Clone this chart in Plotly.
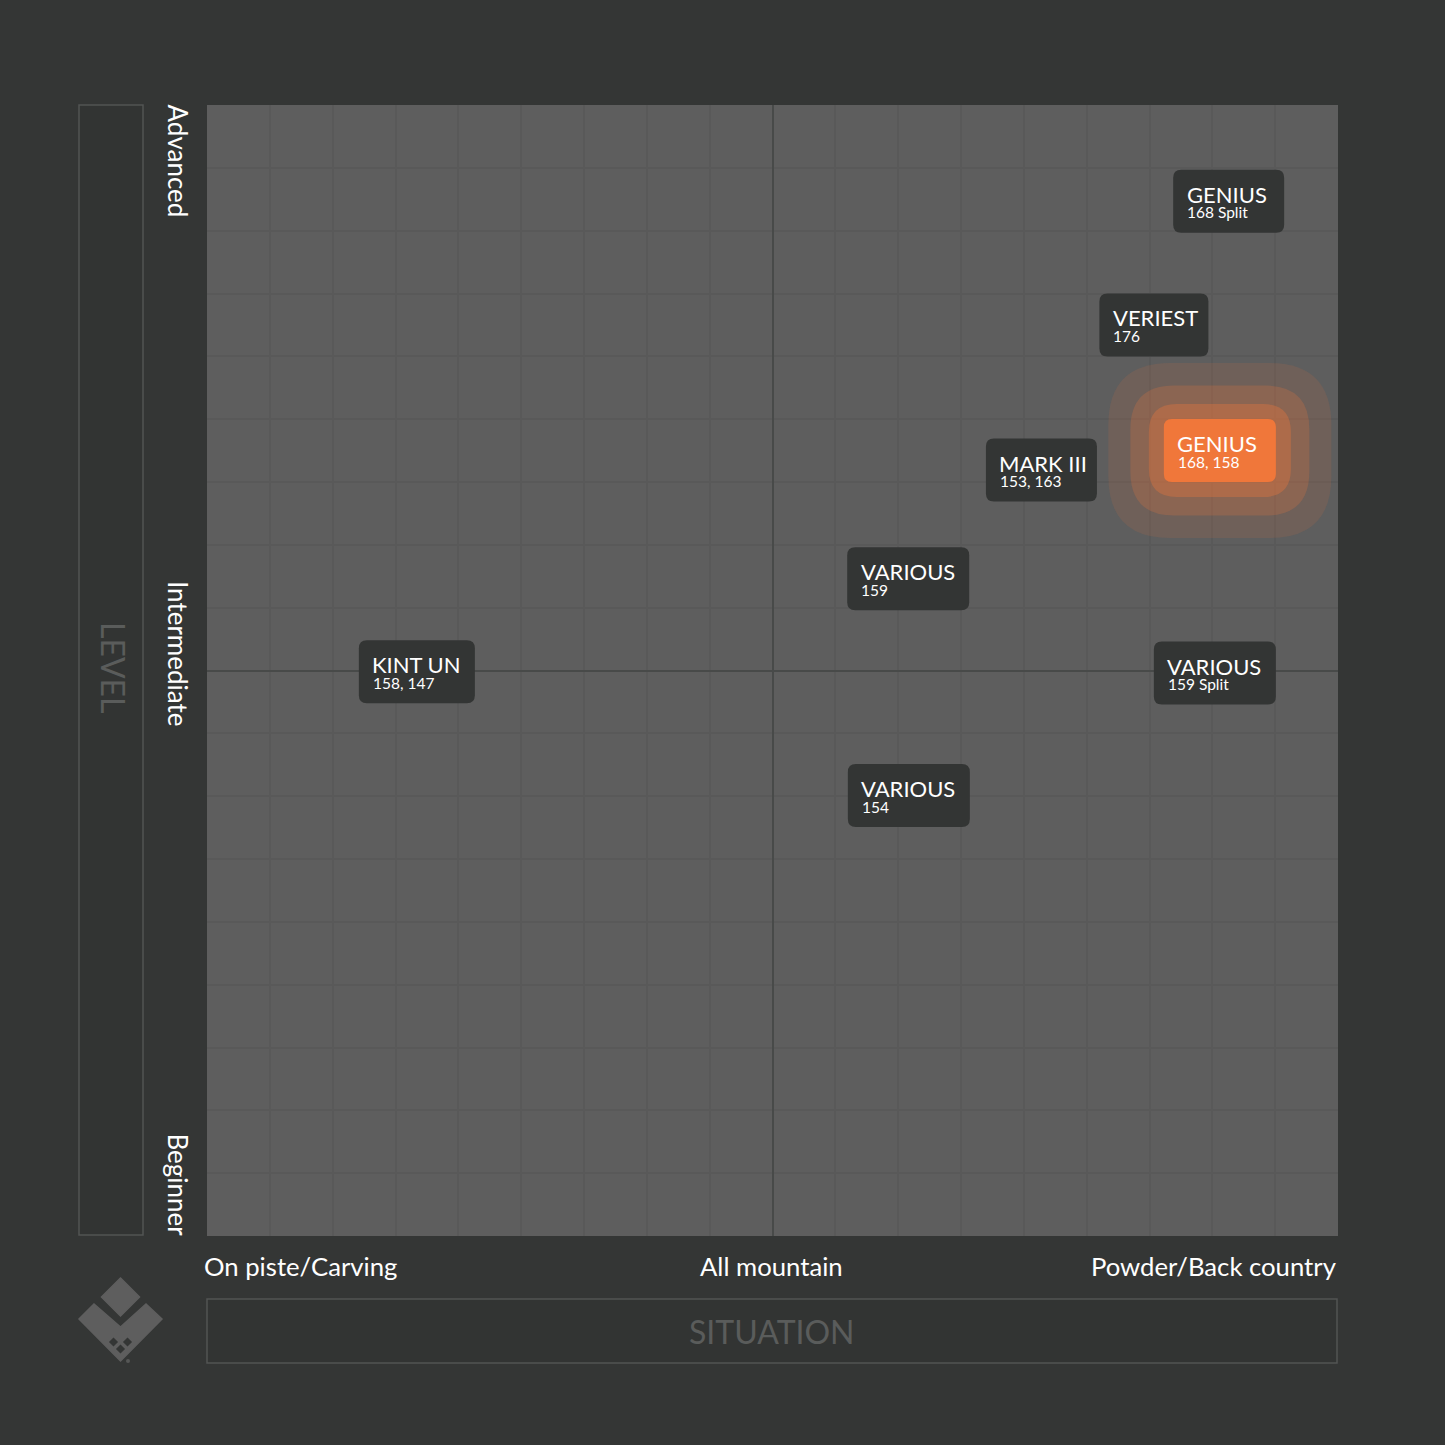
import plotly.graph_objects as go

# quadrant values, both axes run from -9 to 9
names = ["GENIUS", "VERIEST", "GENIUS", "MARK III", "VARIOUS", "KINT UN", "VARIOUS", "VARIOUS"]
sizes = ["168 Split", "176", "168, 158", "153, 163", "159", "158, 147", "159 Split", "154"]
situation = [7.26, 6.07, 7.12, 4.28, 2.16, -5.66, 7.04, 2.17]
level = [7.47, 5.50, 3.50, 3.19, 1.46, -0.02, -0.04, -1.99]
highlighted = "168, 158"

x_labels = ["On piste/Carving", "All mountain", "Powder/Back country"]
y_labels = ["Advanced", "Intermediate", "Beginner"]

# label box widths in pixels, they depend on the text
box_widths = {"168 Split": 111, "176": 109, "168, 158": 112, "153, 163": 111,
              "159": 122, "158, 147": 116, "159 Split": 122, "154": 122}
BOX_HEIGHT = 63

BG = "#343635"
PANEL = "#5e5e5e"
DARK_BOX = "#333534"
ORANGE = "#f0773a"
FONT = "Lato"

PLOT_L, PLOT_T, PLOT_SIZE = 207, 105, 1131


def px_x(x):
    return (x - PLOT_L) / PLOT_SIZE


def px_y(y):
    return 1 - (y - PLOT_T) / PLOT_SIZE


def rounded_path(w, h, r):
    # rounded rectangle around (0, 0), in pixels
    a, b = w / 2, h / 2
    return (
        f"M {-a + r} {-b} L {a - r} {-b} Q {a} {-b} {a} {-b + r} "
        f"L {a} {b - r} Q {a} {b} {a - r} {b} L {-a + r} {b} "
        f"Q {-a} {b} {-a} {b - r} L {-a} {-b + r} Q {-a} {-b} {-a + r} {-b} Z"
    )


def anchored_box(x, y, w, h, r, color, opacity=1):
    return dict(
        type="path",
        xref="x",
        yref="y",
        xsizemode="pixel",
        ysizemode="pixel",
        xanchor=x,
        yanchor=y,
        path=rounded_path(w, h, r),
        fillcolor=color,
        opacity=opacity,
        line=dict(width=0),
        layer="between",
    )


def paper_path(points, color):
    path = "M " + " L ".join(f"{px_x(x):.5f} {px_y(y):.5f}" for x, y in points) + " Z"
    return dict(type="path", xref="paper", yref="paper", path=path,
                fillcolor=color, line=dict(width=1.5, color=color), layer="above")


def frame(x0, y0, x1, y1):
    return dict(type="rect", xref="paper", yref="paper",
                x0=px_x(x0), x1=px_x(x1), y0=px_y(y0), y1=px_y(y1),
                fillcolor="#323433", line=dict(color="#525453", width=1.5), layer="below")


def diamond(cx, cy, d, color):
    return paper_path([(cx, cy - d), (cx + d, cy), (cx, cy + d), (cx - d, cy)], color)


shapes = [frame(79, 105, 143, 1235), frame(207, 1299, 1337, 1363)]

# glow rings first, so the label boxes end up on top
for i, size in enumerate(sizes):
    if size == highlighted:
        shapes.append(anchored_box(situation[i], level[i], 223, 175, 62, ORANGE, 0.12))
        shapes.append(anchored_box(situation[i], level[i], 179, 130, 44, ORANGE, 0.22))
        shapes.append(anchored_box(situation[i], level[i], 142, 93, 28, ORANGE, 0.34))

annotations = []
for name, size, x, y in zip(names, sizes, situation, level):
    w = box_widths[size]
    shapes.append(anchored_box(x, y, w, BOX_HEIGHT, 8, ORANGE if size == highlighted else DARK_BOX))
    annotations.append(dict(x=x, y=y, xref="x", yref="y", text=name, showarrow=False,
                            xanchor="left", yanchor="middle", xshift=-w / 2 + 11.5, yshift=7,
                            font=dict(family=FONT, size=22, color="white")))
    annotations.append(dict(x=x, y=y, xref="x", yref="y", text=size, showarrow=False,
                            xanchor="left", yanchor="middle", xshift=-w / 2 + 12, yshift=-11,
                            font=dict(family=FONT, size=15.5, color="white")))

# logo
LOGO = "#5e5e5e"
shapes.append(diamond(120.5, 1297, 19, LOGO))
shapes.append(paper_path([(79, 1319), (94, 1304), (120.5, 1327), (146, 1304), (162, 1319), (120.5, 1361)], LOGO))
for cx, cy in [(113.5, 1342), (127.5, 1342), (120.5, 1349)]:
    shapes.append(diamond(cx, cy, 3.5, BG))
shapes.append(dict(type="circle", xref="paper", yref="paper",
                   x0=px_x(126), x1=px_x(130), y0=px_y(1363), y1=px_y(1359),
                   fillcolor="#555756", line=dict(width=0), layer="above"))

# axis end labels
for text, px, anchor in zip(x_labels, [202, 771.5, 1338.5], ["left", "center", "right"]):
    annotations.append(dict(x=px_x(px), y=px_y(1266), xref="paper", yref="paper", text=text,
                            showarrow=False, xanchor=anchor, yanchor="middle",
                            font=dict(family=FONT, size=25.7, color="white")))
for text, py, anchor in zip(y_labels, [102, 654, 1238], ["top", "middle", "bottom"]):
    annotations.append(dict(x=px_x(178), y=px_y(py), xref="paper", yref="paper", text=text,
                            showarrow=False, xanchor="center", yanchor=anchor, textangle=90,
                            font=dict(family=FONT, size=26, color="white")))

annotations.append(dict(x=px_x(772), y=px_y(1331), xref="paper", yref="paper", text="SITUATION",
                        showarrow=False, xanchor="center", yanchor="middle",
                        font=dict(family=FONT, size=32, color="#5a5c5b")))
annotations.append(dict(x=px_x(114), y=px_y(668), xref="paper", yref="paper", text="LEVEL",
                        showarrow=False, xanchor="center", yanchor="middle", textangle=90,
                        font=dict(family=FONT, size=32, color="#5a5c5b")))

fig = go.Figure()
fig.add_trace(go.Scatter(x=situation, y=level, mode="markers", marker=dict(size=1, opacity=0),
                         hoverinfo="skip", showlegend=False))

axes_args = dict(
    range=[-9, 9],
    dtick=1,
    showgrid=True,
    gridcolor="#595959",
    gridwidth=1.5,
    zeroline=True,
    zerolinecolor="#484a49",
    zerolinewidth=1.5,
    showticklabels=False,
    ticks="",
    showline=False,
)
fig.update_xaxes(**axes_args)
fig.update_yaxes(**axes_args)

fig.update_layout(
    width=1445,
    height=1445,
    margin=dict(l=PLOT_L, r=1445 - PLOT_L - PLOT_SIZE, t=PLOT_T, b=1445 - PLOT_T - PLOT_SIZE),
    paper_bgcolor=BG,
    plot_bgcolor=PANEL,
    shapes=shapes,
    annotations=annotations,
)

fig.write_html("out.html", config={"displayModeBar": False},
               post_script="document.body.style.margin = '0';")
